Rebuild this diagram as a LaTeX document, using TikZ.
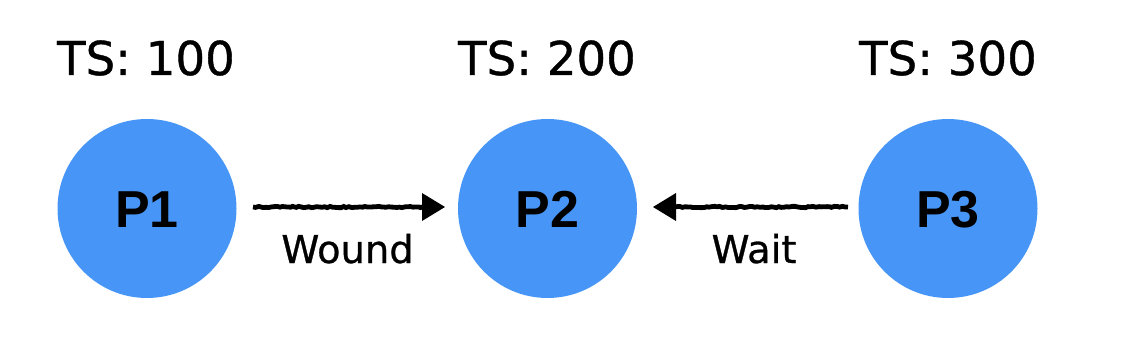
\documentclass[tikz,border=0pt]{standalone}
\usepackage{fontspec}
\setmainfont{DejaVu Sans}
\newfontfamily\tsfont{DejaVu Sans}[FakeBold=0.8]
\newfontfamily\pfont{Liberation Sans}
\usetikzlibrary{arrows.meta,decorations.pathmorphing}
\definecolor{pblue}{RGB}{71,150,247}
\tikzset{
  proc/.style={circle,fill=pblue,minimum size=179*0.75pt,inner sep=0pt},
  plabel/.style={anchor=base,font=\pfont\bfseries\fontsize{39}{39}\selectfont},
  tslabel/.style={anchor=base,font=\tsfont\fontsize{35}{35}\selectfont},
  elabel/.style={anchor=base,font=\tsfont\fontsize{28.8}{28.8}\selectfont},
  rough/.style={line width=3.6pt,draw=black,
    decorate,decoration={random steps,segment length=2pt,amplitude=0.5pt}},
}
\begin{document}
\begin{tikzpicture}[x=0.75pt,y=-0.75pt]
\useasboundingbox (0,0) rectangle (1122,356);
\node[proc] (p1) at (147,208.5) {};
\node[proc] (p2) at (547.5,208.5) {};
\node[proc] (p3) at (948,208.5) {};
\node[plabel] (l1) at (147,228) {P1};
\node[plabel] (l2) at (547.5,228) {P2};
\node[plabel] (l3) at (948,228) {P3};
\node[tslabel] (t1) at (146,75) {TS: 100};
\node[tslabel] (t2) at (547,75) {TS: 200};
\node[tslabel] (t3) at (948,75) {TS: 300};
\coordinate (a1s) at (253,207);
\coordinate (a1e) at (428,207);
\coordinate (a2s) at (848,207);
\coordinate (a2e) at (670,207);
\draw[rough] (a1s) -- (a1e);
\draw[rough] (a2s) -- (a2e);
\fill (a1e) ++(-6,-14) -- ++(23,14) -- ++(-23,14) -- cycle;
\fill (a2e) ++(6,-14) -- ++(-23,14) -- ++(23,14) -- cycle;
\node[elabel] (w1) at (347.5,263) {Wound};
\node[elabel] (w2) at (754,263) {Wait};
\end{tikzpicture}
\end{document}
